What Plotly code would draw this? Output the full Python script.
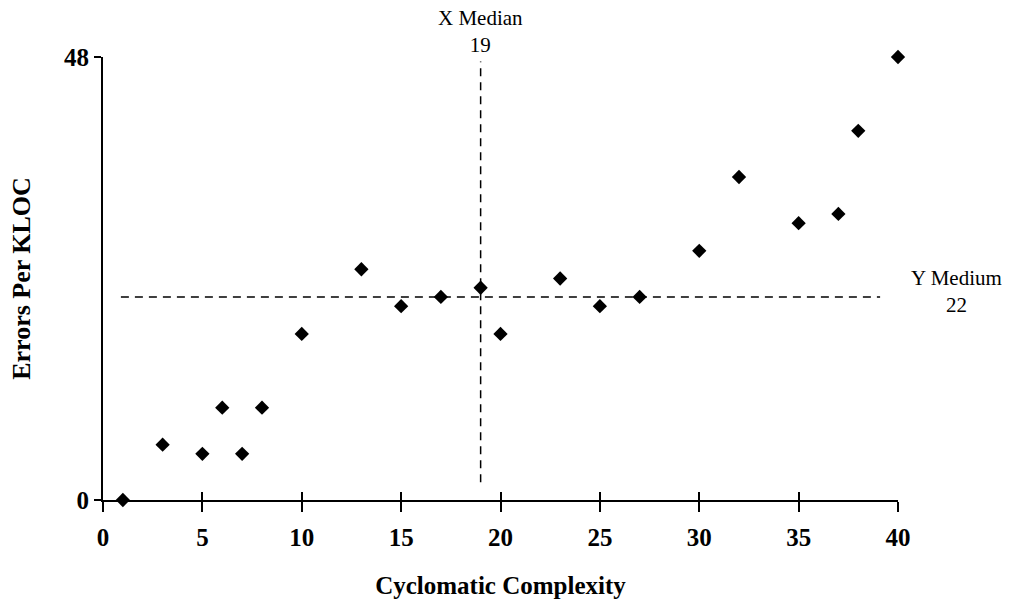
import plotly.graph_objects as go

complexity = [1, 3, 5, 6, 7, 8, 10, 13, 15, 17, 19, 20, 23, 25, 27, 30, 32, 35, 37, 38, 40]
errors = [0, 6, 5, 10, 5, 10, 18, 25, 21, 22, 23, 18, 24, 21, 22, 27, 35, 30, 31, 40, 48]
x_median = 19
y_median = 22
x_ticks = [0, 5, 10, 15, 20, 25, 30, 35, 40]
y_ticks = [0, 48]

FONT = "Liberation Serif"

fig = go.Figure()
fig.add_trace(go.Scatter(
    x=complexity, y=errors, mode="markers",
    marker=dict(symbol="diamond", size=11, color="black"),
    cliponaxis=False, showlegend=False,
))

fig.add_shape(type="line", xref="x", yref="paper", x0=x_median, x1=x_median, y0=0.04, y1=0.99,
              line=dict(color="black", width=1.5, dash="8px,6px"))
fig.add_shape(type="line", xref="x", yref="y", x0=0.9, x1=39.1, y0=y_median, y1=y_median,
              line=dict(color="black", width=1.5, dash="8px,6px"))

fig.add_annotation(x=x_median, xref="x", y=1.0, yref="paper", yshift=26,
                   text="X Median<br>" + str(x_median), xanchor="center", align="center",
                   showarrow=False, font=dict(family=FONT, size=21, color="black"), yanchor="middle")
fig.add_annotation(x=1.073, xref="paper", y=y_median, yref="y", yshift=5,
                   text="Y Medium<br>" + str(y_median), xanchor="center", align="center",
                   showarrow=False, font=dict(family=FONT, size=21, color="black"), yanchor="middle")

tick_font = dict(family=FONT, size=25, color="black", weight="bold")
title_font = dict(family=FONT, size=25, color="black", weight="bold")

fig.update_layout(
    width=1011, height=611,
    margin=dict(l=103, r=113, t=57, b=111),
    plot_bgcolor="white", paper_bgcolor="white",
    font=dict(family=FONT, color="black"),
    xaxis=dict(range=[0, 40], tickvals=x_ticks, showgrid=False, zeroline=False,
               showline=True, linecolor="black", linewidth=2,
               ticks="outside", ticklen=10, tickwidth=2, tickcolor="black",
               ticklabelstandoff=4,
               tickfont=tick_font,
               title=dict(text="Cyclomatic Complexity", standoff=26, font=title_font)),
    yaxis=dict(range=[0, 48], tickvals=y_ticks, showgrid=False, zeroline=False,
               showline=True, linecolor="black", linewidth=2,
               ticks="outside", ticklen=7, tickwidth=2, tickcolor="black",
               tickfont=tick_font,
               title=dict(text="Errors Per KLOC", standoff=26,
                          font=dict(family=FONT, size=26, color="black", weight="bold"))),
    xaxis2=dict(range=[0, 40], tickvals=x_ticks, overlaying="x", anchor="y", side="bottom",
                showgrid=False, zeroline=False, showline=False, showticklabels=False,
                ticks="inside", ticklen=8, tickwidth=2, tickcolor="black"),
    yaxis2=dict(range=[0, 48], tickvals=y_ticks, overlaying="y", anchor="x", side="left",
                showgrid=False, zeroline=False, showline=False, showticklabels=False,
                ticks="inside", ticklen=7, tickwidth=2, tickcolor="black"),
)
fig.add_trace(go.Scatter(x=[None], y=[None], xaxis="x2", yaxis="y2", showlegend=False,
                         hoverinfo="skip"))

fig.write_html("out.html")
